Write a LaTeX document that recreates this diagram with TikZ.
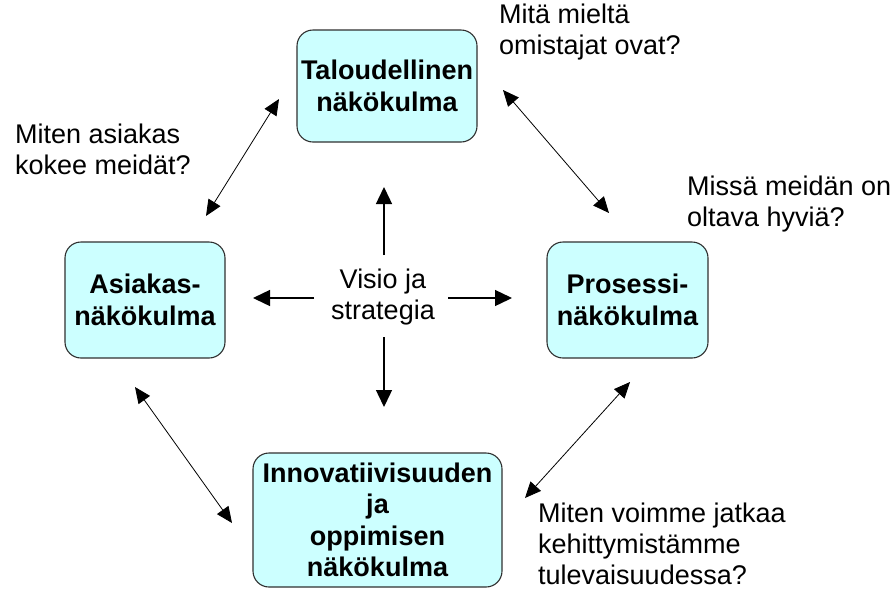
\documentclass[tikz,border=0pt]{standalone}
\usepackage{fontspec}
\setmainfont{Liberation Sans}
\usetikzlibrary{arrows.meta, positioning}
\definecolor{boxcyan}{HTML}{CCFFFF}
\definecolor{boxedge}{HTML}{303030}
\tikzset{%
  viewbox/.style={draw=boxedge, line width=1.1pt, fill=boxcyan, rounded corners=16pt,
                  align=center, inner sep=0pt,
                  font=\fontsize{27}{31.5}\selectfont\bfseries},
  question/.style={align=left, inner sep=0pt, anchor=west,
                   font=\fontsize{27}{31}\selectfont},
  mainarrow/.style={line width=1.4pt, -{Triangle[length=17pt, width=16pt]}},
  biarrow/.style={line width=0.8pt, {Triangle[length=16pt, width=14pt]}-{Triangle[length=16pt, width=14pt]}},
}

\begin{document}
\begin{tikzpicture}[x=1pt, y=-1pt]

\useasboundingbox (0,0) rectangle (891,590);

% Draw the four perspective boxes
\node[viewbox, minimum width=180pt, minimum height=112pt] (talous) at (387,86) {Taloudellinen\\näkökulma};
\node[viewbox, minimum width=160pt, minimum height=116pt] (asiakas) at (145,300) {Asiakas-\\näkökulma};
\node[viewbox, minimum width=161pt, minimum height=116pt] (prosessi) at (627.5,300) {Prosessi-\\näkökulma};
\node[viewbox, minimum width=249pt, minimum height=134pt] (innovaatio) at (377.5,520) {Innovatiivisuuden\\ja\\oppimisen\\näkökulma};

% Centre text
\node[align=center, inner sep=0pt, font=\fontsize{27}{31}\selectfont] (visio) at (383,297) {Visio ja\\strategia};

% Questions beside the boxes
\node[question] (qtalous) at (499,32) {Mitä mieltä\\omistajat ovat?};
\node[question] (qasiakas) at (15,149) {Miten asiakas\\kokee meidät?};
\node[question] (qprosessi) at (687,204) {Missä meidän on\\oltava hyviä?};
\node[question] (qinnovaatio) at (538,544) {Miten voimme jatkaa\\kehittymistämme\\tulevaisuudessa?};

% End points of the arrows
\coordinate (vt) at (384,255);  \coordinate (tv) at (384,187);
\coordinate (vb) at (384,337);  \coordinate (bv) at (384,407);
\coordinate (vl) at (314,298);  \coordinate (lv) at (253,298);
\coordinate (vr) at (448,298);  \coordinate (rv) at (512,298);

\coordinate (at) at (206,216);  \coordinate (ta) at (279,99);
\coordinate (tp) at (503,90);   \coordinate (pt) at (609,213);
\coordinate (ai) at (135,387);  \coordinate (ia) at (232,523);
\coordinate (pi) at (630,382);  \coordinate (ip) at (525,498);

% Draw arrows from the centre
\draw[mainarrow] (vt) -- (tv);
\draw[mainarrow] (vb) -- (bv);
\draw[mainarrow] (vl) -- (lv);
\draw[mainarrow] (vr) -- (rv);

% Draw arrows between neighbouring boxes
\draw[biarrow] (at) -- (ta);
\draw[biarrow] (tp) -- (pt);
\draw[biarrow] (ai) -- (ia);
\draw[biarrow] (pi) -- (ip);

\end{tikzpicture}
\end{document}
